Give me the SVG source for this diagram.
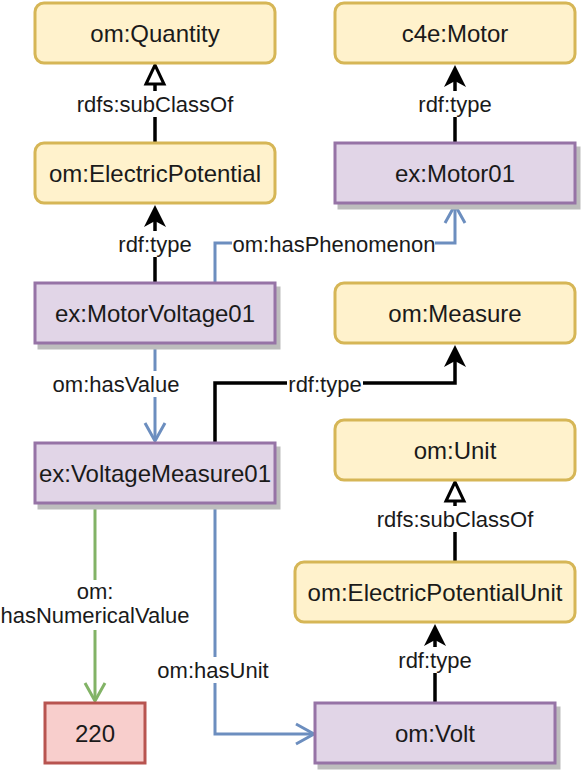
<svg xmlns="http://www.w3.org/2000/svg" width="582" height="772" viewBox="0 0 582 772">
<style>
.cls{fill:#fff2cc;stroke:#d6b656;stroke-width:3}
.ind{fill:#e1d5e7;stroke:#9673a6;stroke-width:3}
.lit{fill:#f8cecc;stroke:#b85450;stroke-width:3}
.sh{fill:#bdbdbd;stroke:#bdbdbd;stroke-width:3}
.nt{font-family:"Liberation Sans",Arial,sans-serif;font-size:24px;fill:#1a1a1a;text-anchor:middle}
.lt{font-family:"Liberation Sans",Arial,sans-serif;font-size:22px;fill:#1a1a1a;text-anchor:middle}
.lb{fill:#ffffff}
.eb{fill:none;stroke:#000000;stroke-width:3.5}
.eu{fill:none;stroke:#6c8ebf;stroke-width:3}
.eg{fill:none;stroke:#82b366;stroke-width:3}
</style>
<defs>
<marker id="mHollow" viewBox="0 0 24 24" markerWidth="24" markerHeight="24" markerUnits="userSpaceOnUse" refX="12" refY="12" orient="auto" overflow="visible">
<path d="M3,3 L22,12 L3,21 Z" fill="#ffffff" stroke="#000000" stroke-width="3"/>
</marker>
<marker id="mClassic" viewBox="0 0 24 24" markerWidth="24" markerHeight="24" markerUnits="userSpaceOnUse" refX="14" refY="12" orient="auto" overflow="visible">
<path d="M1,1 L23,12 L1,23 L7,12 Z" fill="#000000"/>
</marker>
<marker id="mOpenBlue" viewBox="0 0 24 24" markerWidth="24" markerHeight="24" markerUnits="userSpaceOnUse" refX="21" refY="12" orient="auto" overflow="visible">
<path d="M4,2 L22,12 L4,22" fill="none" stroke="#6c8ebf" stroke-width="3"/>
</marker>
<marker id="mOpenGreen" viewBox="0 0 24 24" markerWidth="24" markerHeight="24" markerUnits="userSpaceOnUse" refX="21" refY="12" orient="auto" overflow="visible">
<path d="M4,2 L22,12 L4,22" fill="none" stroke="#82b366" stroke-width="3"/>
</marker>
</defs>

<g id="connectors">
<g id="e-ep-q"><path class="eb" d="M155,143 V75" marker-end="url(#mHollow)"/><rect class="lb" x="76" y="91" width="158" height="26"/><text class="lt" x="155" y="112">rdfs:subClassOf</text></g>
<g id="e-m01-c4e"><path class="eb" d="M455,143 V74" marker-end="url(#mClassic)"/><rect class="lb" x="417" y="91" width="76" height="26"/><text class="lt" x="455" y="112">rdf:type</text></g>
<g id="e-mv-ep"><path class="eb" d="M155,283 V214" marker-end="url(#mClassic)"/><rect class="lb" x="117" y="231" width="76" height="26"/><text class="lt" x="155" y="252">rdf:type</text></g>
<g id="e-mv-m01"><path class="eu" d="M215,283 V243 H455 V206" marker-end="url(#mOpenBlue)"/><rect class="lb" x="232" y="231" width="203" height="26"/><text class="lt" x="334" y="252">om:hasPhenomenon</text></g>
<g id="e-mv-vm"><path class="eu" d="M155,343 V440" marker-end="url(#mOpenBlue)"/><rect class="lb" x="51" y="371" width="130" height="26"/><text class="lt" x="116" y="392">om:hasValue</text></g>
<g id="e-vm-meas"><path class="eb" d="M215,443 V383 H455 V354" marker-end="url(#mClassic)"/><rect class="lb" x="287" y="371" width="76" height="26"/><text class="lt" x="325" y="392">rdf:type</text></g>
<g id="e-vm-220"><path class="eg" d="M95,503 V700" marker-end="url(#mOpenGreen)"/><rect class="lb" x="0" y="580" width="190" height="50"/><text class="lt" x="95" y="599">om:</text><text class="lt" x="95" y="623">hasNumericalValue</text></g>
<g id="e-vm-volt"><path class="eu" d="M215,503 V734 H313" marker-end="url(#mOpenBlue)"/><rect class="lb" x="156" y="657" width="114" height="26"/><text class="lt" x="213" y="678">om:hasUnit</text></g>
<g id="e-epu-unit"><path class="eb" d="M455,562 V492" marker-end="url(#mHollow)"/><rect class="lb" x="376" y="506" width="158" height="26"/><text class="lt" x="455" y="527">rdfs:subClassOf</text></g>
<g id="e-volt-epu"><path class="eb" d="M435,703 V633" marker-end="url(#mClassic)"/><rect class="lb" x="397" y="647" width="76" height="26"/><text class="lt" x="435" y="668">rdf:type</text></g>
</g>

<g id="n-quantity"><rect class="cls" x="35" y="3" width="240" height="60" rx="9"/><text class="nt" x="155" y="42">om:Quantity</text></g>
<g id="n-c4emotor"><rect class="cls" x="335" y="3" width="240" height="60" rx="9"/><text class="nt" x="455" y="42">c4e:Motor</text></g>
<g id="n-electricpotential"><rect class="cls" x="35" y="143" width="240" height="60" rx="9"/><text class="nt" x="155" y="182">om:ElectricPotential</text></g>
<g id="n-motor01"><rect class="sh" x="339" y="148" width="240" height="60"/><rect class="ind" x="335" y="143" width="240" height="60"/><text class="nt" x="455" y="182">ex:Motor01</text></g>
<g id="n-motorvoltage01"><rect class="sh" x="39" y="288" width="240" height="60"/><rect class="ind" x="35" y="283" width="240" height="60"/><text class="nt" x="155" y="322">ex:MotorVoltage01</text></g>
<g id="n-measure"><rect class="cls" x="335" y="283" width="240" height="60" rx="9"/><text class="nt" x="455" y="322">om:Measure</text></g>
<g id="n-voltagemeasure01"><rect class="sh" x="39" y="448" width="240" height="60"/><rect class="ind" x="35" y="443" width="240" height="60"/><text class="nt" x="155" y="482">ex:VoltageMeasure01</text></g>
<g id="n-unit"><rect class="cls" x="335" y="420" width="240" height="60" rx="9"/><text class="nt" x="455" y="459">om:Unit</text></g>
<g id="n-electricpotentialunit"><rect class="cls" x="295" y="562" width="280" height="60" rx="9"/><text class="nt" x="435" y="601">om:ElectricPotentialUnit</text></g>
<g id="n-220"><rect class="lit" x="45" y="703" width="100" height="60"/><text class="nt" x="95" y="742">220</text></g>
<g id="n-volt"><rect class="sh" x="319" y="708" width="240" height="60"/><rect class="ind" x="315" y="703" width="240" height="60"/><text class="nt" x="435" y="742">om:Volt</text></g>
</svg>
